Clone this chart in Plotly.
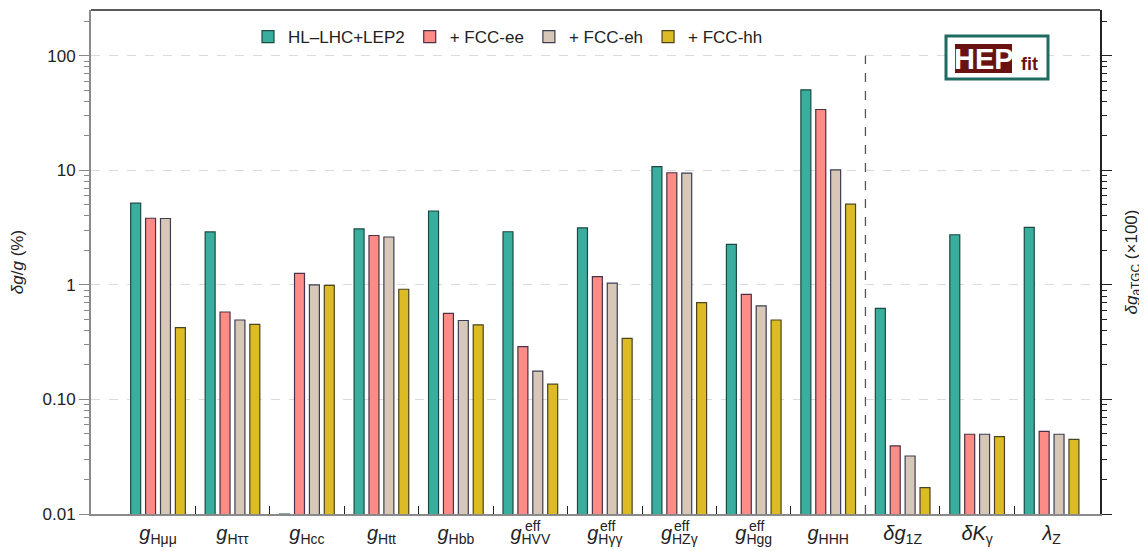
import plotly.graph_objects as go

categories = ["<i>g</i><sub>Hμμ</sub>", "<i>g</i><sub>Hττ</sub>", "<i>g</i><sub>Hcc</sub>",
              "<i>g</i><sub>Htt</sub>", "<i>g</i><sub>Hbb</sub>", "<i>g</i><sub>HVV</sub>",
              "<i>g</i><sub>Hγγ</sub>", "<i>g</i><sub>HZγ</sub>", "<i>g</i><sub>Hgg</sub>",
              "<i>g</i><sub>HHH</sub>", "<i>δg</i><sub>1Z</sub>", "<i>δK</i><sub>γ</sub>",
              "<i>λ</i><sub>Z</sub>"]
eff_flags = [False, False, False, False, False, True, True, True, True, False, False, False, False]

series_names = ["HL–LHC+LEP2", "+ FCC-ee", "+ FCC-eh", "+ FCC-hh"]
hl_lhc = [5.17, 2.90, 0.01, 3.08, 4.42, 2.91, 3.15, 10.8, 2.26, 50.5, 0.625, 2.74, 3.18]
fcc_ee = [3.82, 0.58, 1.26, 2.70, 0.565, 0.289, 1.18, 9.53, 0.828, 34.0, 0.0393, 0.0497, 0.0527]
fcc_eh = [3.80, 0.494, 1.00, 2.62, 0.489, 0.177, 1.035, 9.45, 0.656, 10.1, 0.0321, 0.0497, 0.0497]
fcc_hh = [0.424, 0.453, 0.99, 0.916, 0.448, 0.136, 0.342, 0.70, 0.494, 5.07, 0.0170, 0.0473, 0.0449]

ytick_vals = [0.01, 0.1, 1, 10, 100]
ytick_text = ["0.01", "0.10", "1", "10", "100"]

fills = ["#3aae9e", "#fd8c86", "#d7c7b7", "#dcbb24"]
edges = ["#1c4a42", "#4a3048", "#3c3c55", "#4a4420"]

FONT = "Liberation Sans, Arial, sans-serif"
x_idx = list(range(len(categories)))

fig = go.Figure()
for name, vals, fc, ec in zip(series_names, [hl_lhc, fcc_ee, fcc_eh, fcc_hh], fills, edges):
    fig.add_trace(go.Bar(x=x_idx, y=vals, name=name,
                         marker=dict(color=fc, line=dict(color=ec, width=1.2))))

minor_y = [k * 10.0 ** e for e in range(-2, 3) for k in range(2, 10)]
minor_y = [v for v in minor_y if v < 260]

# page has an 8px body margin; size the figure so the plot area lands where the reference has it
BODY = 8
W, H = 1147 - BODY, 551 - BODY
PL, PR, PT, PB = 91, 1100, 10, 514   # plot area in window pixels

def px(x):
    return (x - PL) / (PR - PL)

def py(y):
    return (PB - y) / (PB - PT)

yr = [-2, 2.4]

fig.update_layout(
    width=W, height=H,
    margin=dict(l=PL - BODY, r=1147 - PR, t=PT - BODY, b=551 - PB, pad=0, autoexpand=False),
    paper_bgcolor="white", plot_bgcolor="white",
    barmode="group", bargap=0.2, bargroupgap=0.33,
    font=dict(family=FONT, size=17, color="#222"),
    showlegend=True,
    legend=dict(orientation="h", x=px(248), xanchor="left", y=py(37), yanchor="middle",
                font=dict(size=17, color="#222"), bgcolor="rgba(0,0,0,0)", itemclick=False,
                tracegroupgap=0),
    xaxis=dict(range=[-0.9, 12.65], tickmode="array", tickvals=x_idx, ticktext=categories,
               ticks="", showgrid=False, zeroline=False, showline=True, linecolor="#8a8a8a",
               linewidth=2, tickfont=dict(size=20, color="#222"), automargin=False,
               minor=dict(tickmode="array", tickvals=[i + 0.5 for i in range(len(categories) - 1)],
                          ticks="inside", ticklen=8, tickwidth=1.2, tickcolor="#222", showgrid=False)),
    yaxis=dict(type="log", range=yr, tickmode="array", tickvals=ytick_vals, ticktext=ytick_text,
               ticks="outside", ticklen=10, tickwidth=1.2, tickcolor="#888",
               showline=True, linecolor="#8a8a8a", linewidth=2, automargin=False,
               showgrid=True, gridcolor="#dadada", griddash="dash", gridwidth=1,
               zeroline=False, tickfont=dict(size=17, color="#222"),
               title=dict(text="<i>δg</i>/<i>g</i> (%)", font=dict(size=17, color="#222"), standoff=16),
               minor=dict(tickmode="array", tickvals=minor_y, ticks="outside", ticklen=5,
                          tickcolor="#888", tickwidth=1, showgrid=False)),
    yaxis2=dict(type="log", range=yr, overlaying="y", side="right", anchor="x",
                tickmode="array", tickvals=ytick_vals, showticklabels=False, automargin=False,
                ticks="outside", ticklen=10, tickwidth=1.2, tickcolor="#222",
                showline=True, linecolor="#222", linewidth=1.5, showgrid=False, zeroline=False,
                title=dict(text="<i>δg</i><sub>aTGC</sub> (×100)", font=dict(size=17, color="#222"),
                           standoff=14),
                minor=dict(tickmode="array", tickvals=minor_y, ticks="outside", ticklen=5,
                           tickcolor="#222", tickwidth=1, showgrid=False)),
)

# invisible helper so the right axis is drawn
fig.add_trace(go.Scatter(x=[0], y=[1], yaxis="y2", mode="markers", marker=dict(opacity=0),
                         showlegend=False, hoverinfo="skip"))

# top frame line
fig.add_shape(type="line", xref="paper", yref="paper", x0=0, x1=1, y0=1, y1=1,
              line=dict(color="#222", width=1.5))
# dashed separator between Higgs couplings and aTGC
fig.add_shape(type="line", xref="x", yref="paper", x0=9.5, x1=9.5, y0=0, y1=(2 - yr[0]) / (yr[1] - yr[0]),
              line=dict(color="#555", width=1.3, dash="dash"))

# "eff" superscripts
for i, flag in enumerate(eff_flags):
    if flag:
        fig.add_annotation(x=i, xref="x", y=py(526), yref="paper", text="eff", showarrow=False,
                           xanchor="left", yanchor="middle", xshift=-7,
                           font=dict(size=14, color="#222", family=FONT))

# HEPfit logo
fig.add_shape(type="rect", xref="paper", yref="paper", x0=px(946), x1=px(1048), y0=py(79), y1=py(36),
              fillcolor="white", line=dict(color="#1f6b60", width=3), layer="above")
fig.add_shape(type="rect", xref="paper", yref="paper", x0=px(955), x1=px(1012), y0=py(73), y1=py(44),
              fillcolor="#6a1212", line=dict(width=0), layer="above")
fig.add_annotation(x=px(983.5), y=py(59), xref="paper", yref="paper", text="<b>HEP</b>",
                   showarrow=False, xanchor="center", yanchor="middle",
                   font=dict(size=29, color="white", family=FONT))
fig.add_annotation(x=px(1029), y=py(64), xref="paper", yref="paper", text="<b>fit</b>",
                   showarrow=False, xanchor="center", yanchor="middle",
                   font=dict(size=18, color="#6a1212", family=FONT))

fig.write_html("out.html")
